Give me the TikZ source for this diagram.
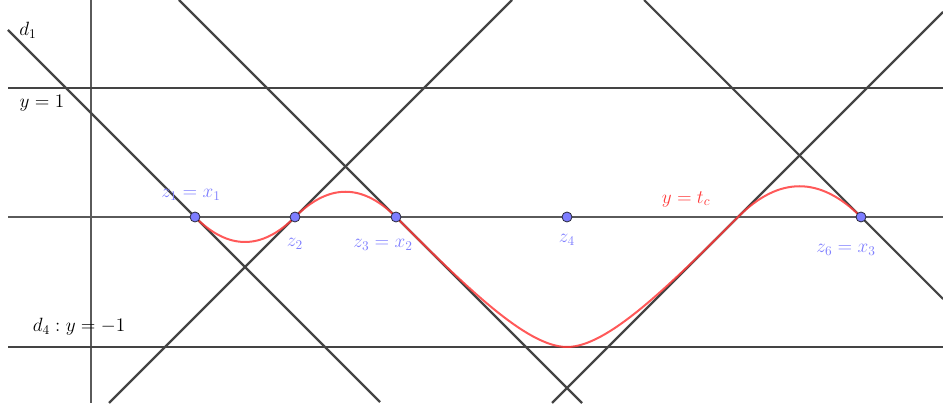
\documentclass[tikz,border=0pt]{standalone}
\definecolor{lineg}{RGB}{68,68,68}
\definecolor{axisg}{RGB}{90,90,90}
\definecolor{redc}{RGB}{255,60,60}
\definecolor{ptfill}{RGB}{125,125,255}
\definecolor{ptedge}{RGB}{40,40,60}
\definecolor{lblblue}{RGB}{128,128,255}
\tikzset{
  gline/.style={draw=lineg, line width=1.6pt},
  axisline/.style={draw=axisg, line width=0.8pt},
  curve/.style={draw=redc, line width=1.5pt, draw opacity=0.85},
  pt/.style={circle, fill=ptfill, draw=ptedge, line width=0.6pt, inner sep=0pt, minimum size=7.5pt},
  lbl/.style={inner sep=0pt, font=\fontsize{14.4}{17}\selectfont},
  bluelbl/.style={lbl, text=lblblue},
}
\begin{document}
\begin{tikzpicture}[x=0.75pt,y=-0.75pt]
\useasboundingbox (0,0) rectangle (943,409);
% axes
\coordinate (axL) at (8,217);
\coordinate (axR) at (943,217);
\coordinate (vT) at (91,0);
\coordinate (vB) at (91,403);
\draw[axisline] (axL) -- (axR);
\draw[axisline] (vT) -- (vB);
% horizontal lines y=1, y=-1
\coordinate (p1L) at (8,88);
\coordinate (p1R) at (943,88);
\coordinate (m1L) at (8,347);
\coordinate (m1R) at (943,347);
\draw[gline] (p1L) -- (p1R);
\draw[gline] (m1L) -- (m1R);
% oblique lines
\coordinate (d1a) at (8,30);
\coordinate (d1b) at (380,402);
\coordinate (Aa) at (179,0);
\coordinate (Ab) at (582,403);
\coordinate (Ba) at (512,0);
\coordinate (Bb) at (109,403);
\coordinate (Ca) at (644,0);
\coordinate (Cb) at (943,299);
\coordinate (Da) at (943,12);
\coordinate (Db) at (552,403);
\draw[gline] (d1a) -- (d1b);
\draw[gline] (Aa) -- (Ab);
\draw[gline] (Ba) -- (Bb);
\draw[gline] (Ca) -- (Cb);
\draw[gline] (Da) -- (Db);
% points on axis
\coordinate (c1) at (195,217);
\coordinate (c2) at (295,217);
\coordinate (c3) at (396,217);
\coordinate (c4) at (567,217);
\coordinate (c5) at (738,217);
\coordinate (c6) at (861,217);
\coordinate (mn) at (567,347);
% red curve
\draw[curve] (c1) .. controls (228.33,250.33) and (261.67,250.33) .. (c2)
  .. controls (328.67,183.33) and (362.33,183.33) .. (c3)
  .. controls (466,287) and (527,347) .. (mn)
  .. controls (607,347) and (668,287) .. (c5)
  .. controls (779,176) and (820,176) .. (c6);
% points
\node[pt] (z1) at (c1) {};
\node[pt] (z2) at (c2) {};
\node[pt] (z3) at (c3) {};
\node[pt] (z4) at (c4) {};
\node[pt] (z6) at (c6) {};
% labels
\node[lbl] (ld1) at (28,30) {$d_1$};
\node[lbl] (ly1) at (42,103) {$y=1$};
\node[lbl] (ld4) at (79,327) {$d_4 : y=-1$};
\node[bluelbl] (lz1) at (191,195) {$z_1=x_1$};
\node[bluelbl] (lz2) at (295,244) {$z_2$};
\node[bluelbl] (lz3) at (383,245) {$z_3=x_2$};
\node[bluelbl] (lz4) at (567,240) {$z_4$};
\node[bluelbl] (lz6) at (846,250) {$z_6=x_3$};
\node[lbl, text=redc] (ltc) at (686,199) {$y=t_c$};
\end{tikzpicture}
\end{document}
